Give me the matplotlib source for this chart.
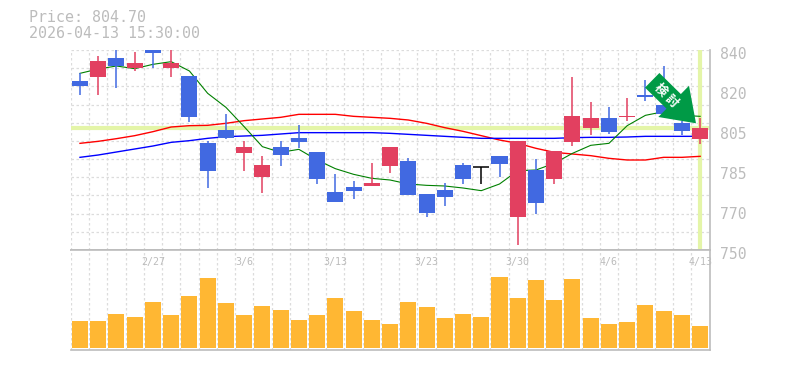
#!/usr/bin/env python

import numpy as np
import matplotlib
matplotlib.use('Agg')
import matplotlib.pyplot as plt
from matplotlib.patches import FancyArrow
from matplotlib.transforms import IdentityTransform

plt.rcParams['font.family'] = ['DejaVu Sans Mono', 'Noto Sans CJK JP']

W, H = 785, 370
GRAY = '#bcbcbc'
GRID = '#dcdcdc'
UP = '#e24060'
DOWN = '#4169e1'

opens = [826.05, 827.85, 836.4, 831.9, 840.0, 831.9, 828.3, 798.15, 804.0, 793.65, 782.85, 796.35,
         800.4, 794.1, 776.1, 778.35, 778.8, 787.8, 790.05, 775.2, 777.0, 788.25, 787.2, 792.3,
         764.85, 786.0, 781.95, 798.6, 804.9, 809.4, 809.85, 819.75, 815.4, 807.0, 800.0]
highs = [829.5, 837.3, 840.0, 839.25, 840.0, 840.0, 828.3, 799.05, 811.2, 799.05, 792.3, 799.05,
         806.25, 794.1, 784.2, 781.05, 789.15, 796.35, 791.4, 775.2, 780.15, 789.15, 787.2, 792.3,
         799.05, 790.95, 794.55, 827.85, 816.6, 814.35, 818.4, 826.5, 832.8, 808.0, 809.4]
lows = [819.75, 819.75, 822.9, 830.7, 832.05, 827.85, 807.6, 777.9, 799.95, 785.55, 775.65, 787.8,
        795.9, 779.7, 771.6, 772.95, 778.8, 784.65, 774.75, 764.85, 769.8, 779.7, 779.7, 782.7,
        752.25, 766.2, 779.7, 796.8, 801.75, 802.2, 808.05, 817.05, 810.0, 801.75, 797.7]
closes = [823.8, 835.05, 832.8, 834.15, 838.65, 834.15, 809.85, 785.55, 800.4, 796.35, 788.25, 792.75,
          798.6, 781.95, 771.6, 776.55, 780.15, 796.35, 774.75, 766.65, 773.85, 781.95, 787.2, 788.7,
          799.05, 771.15, 794.55, 810.3, 809.4, 803.1, 810.3, 818.85, 811.35, 803.7, 804.7]
ma_short = [829.5, 831.45, 832.8, 831.6, 833.55, 834.75, 830.55, 820.5, 814.2, 805.5, 796.5, 793.95,
            795.3, 790.5, 786.6, 784.05, 782.25, 781.5, 779.7, 779.1, 778.8, 777.9, 776.7, 779.7,
            785.7, 786.0, 789.0, 793.5, 797.1, 798.0, 805.95, 810.6, 812.25, 810.6, 810.15]
ma_mid = [798.0, 798.9, 800.1, 801.45, 803.25, 805.35, 805.95, 806.1, 807.0, 808.2, 808.95, 809.7,
          811.05, 811.05, 811.05, 810.15, 809.7, 809.25, 808.5, 807.0, 805.05, 803.4, 801.45, 799.5,
          798.0, 795.75, 793.95, 793.2, 792.45, 791.25, 790.5, 790.5, 791.7, 791.7, 792.15]
ma_long = [791.7, 792.75, 794.1, 795.45, 796.8, 798.45, 799.2, 800.25, 801.0, 801.3, 801.6, 802.2,
           802.8, 802.8, 802.8, 802.8, 802.8, 802.5, 802.05, 801.6, 801.15, 800.7, 800.25, 800.25,
           800.25, 800.25, 800.25, 800.55, 800.7, 800.7, 800.85, 801.15, 801.15, 801.15, 801.15]
volumes = [80, 80, 101, 92, 137, 98, 155, 209, 134, 98, 125, 113, 83, 98, 149, 110, 83, 71,
           137, 122, 89, 101, 92, 212, 149, 203, 143, 206, 89, 71, 77, 128, 110, 98, 65]

y_ticks = [840, 822, 804, 786, 768, 750]
y_labels = ['840', '820', '805', '785', '770', '750']
date_pos = [4, 9, 14, 19, 24, 29, 34]
date_labels = ['2/27', '3/6', '3/13', '3/23', '3/30', '4/6', '4/13']
last_price = 804.70
title_lines = ['Price: 804.70', '2026-04-13 15:30:00']
arrow_chars = ['検', '討']


def panel(left, top, right, bottom):
    return fig.add_axes([left / W, 1 - bottom / H, (right - left) / W, (bottom - top) / H])


def style(ax):
    ax.set_xlim(-0.52, 34.54)
    ax.set_xticks(np.arange(35) - 0.5)
    ax.tick_params(length=0, labelbottom=False, labelleft=False)
    ax.set_axisbelow(True)
    ax.grid(True, color=GRID, lw=0.9, ls=(0, (2, 2)))
    for s in ['left', 'top']:
        ax.spines[s].set_visible(False)
    for s in ['right', 'bottom']:
        ax.spines[s].set_color(GRAY)
        ax.spines[s].set_linewidth(1.2)


fig = plt.figure(figsize=(W / 100, H / 100), dpi=100)
ax = panel(70.5, 50, 710, 250)
vol = panel(70.5, 250, 710, 350)
style(ax)
style(vol)

xs = np.arange(len(closes))
ax.set_ylim(750, 840)
ax.set_yticks(np.linspace(750, 840, 12))
ax.axhline(last_price, color='#e4f5a8', lw=3, zorder=1)
ax.axvline(34, color='#e4f5a8', lw=3, zorder=1)

ax.plot(xs, ma_mid, color='red', lw=1, zorder=2)
ax.plot(xs, ma_long, color='blue', lw=1, zorder=2)
ax.plot(xs, ma_short, color='green', lw=0.8, zorder=2)

for x, o, h, l, c in zip(xs, opens, highs, lows, closes):
    col = UP if c > o else DOWN if c < o else 'black'
    ax.plot([x, x], [l, h], color=col, lw=1.1, zorder=3, solid_capstyle='butt')
    if c == o:
        ax.plot([x - 0.44, x + 0.44], [c, c], color=col, lw=1.1, zorder=3, solid_capstyle='butt')
    else:
        ax.bar(x, abs(c - o), bottom=min(o, c), width=0.88, color=col, lw=0, zorder=3)

vol.set_ylim(-7, 293)
vol.set_yticks([-7])
vol.bar(xs, volumes, width=0.88, color='#ffb733', lw=0, zorder=3)
vol.spines['top'].set_visible(True)
vol.spines['top'].set_color(GRAY)
vol.spines['top'].set_linewidth(1.2)

for p, t in zip(date_pos, date_labels):
    vol.text(p, 1 - 12 / 100, t, transform=vol.get_xaxis_transform(), color=GRAY, fontsize=7.2,
             ha='center', va='center', zorder=4)

for v, t in zip(y_ticks, y_labels):
    ax.annotate(t, (1, v), xycoords=ax.get_yaxis_transform(), xytext=(7, -3.5), textcoords='offset points',
                color=GRAY, fontsize=10.6, ha='left', va='center', annotation_clip=False)

for i, t in enumerate(title_lines):
    fig.text(29 / W, 1 - (18 + 15 * i) / H, t, color=GRAY, fontsize=10.8, ha='left', va='center')

# arrow is placed in pixels, y flipped
tail = (652.2, H - 80.3)
tip = (696.0, H - 123.3)
arrow = FancyArrow(tail[0], tail[1], tip[0] - tail[0], tip[1] - tail[1], width=20.5, head_width=43.8,
                   head_length=31.3, length_includes_head=True, color='#009a46', lw=0,
                   transform=IdentityTransform(), zorder=6)
fig.add_artist(arrow)
for i, t in enumerate(arrow_chars):
    fig.text((660.7 + 11 * i) / W, 1 - (90 + 11 * i) / H, t, color='white', fontsize=9, fontweight='bold',
             rotation=-45, rotation_mode='anchor', ha='center', va='center',
             family=['Noto Sans CJK JP'], zorder=7)

fig.savefig('out.png', dpi=100)
